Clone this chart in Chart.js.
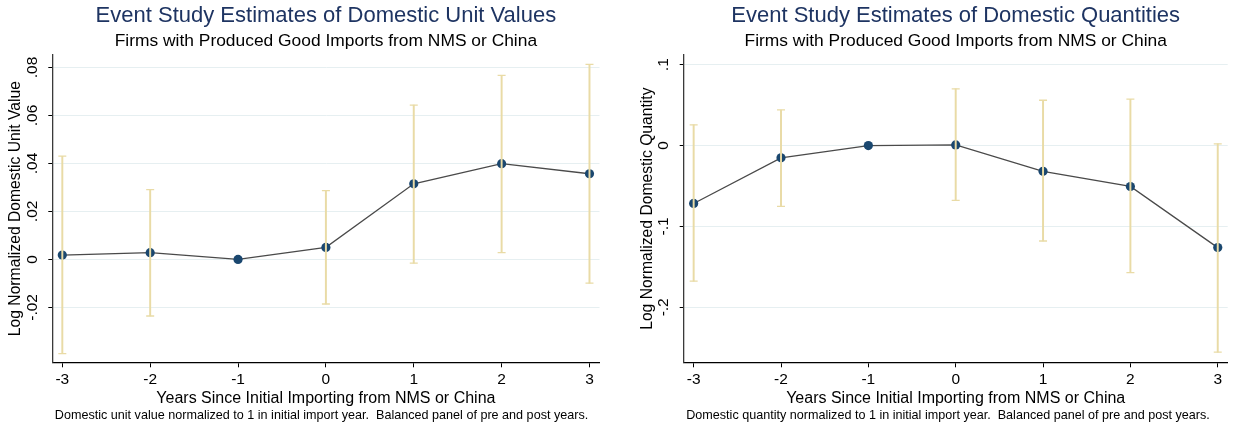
<!DOCTYPE html>
<html>
<head>
<meta charset="utf-8">
<script src="https://cdn.jsdelivr.net/npm/chart.js@4"></script>
<style>
  html, body { margin: 0; padding: 0; background: #fff; }
  #wrap { position: relative; width: 1233px; height: 428px; }
  canvas { position: absolute; top: 0; }
</style>
</head>
<body>
<div id="wrap">
  <canvas id="unitValues" width="616" height="428" style="left:0"></canvas>
  <canvas id="quantities" width="617" height="428" style="left:616px"></canvas>
</div>
<script>
// Event-time axis
const years = [-3, -2, -1, 0, 1, 2, 3];
const xTicks = [-3, -2, -1, 0, 1, 2, 3];

// Domestic unit values: point estimates and 95% CI bounds (year -1 is the reference)
const unitValueEst = [0.0018, 0.0028, 0, 0.0050, 0.0315, 0.0399, 0.0357];
const unitValueLo  = [-0.0393, -0.0236, null, -0.0186, -0.0016, 0.0028, -0.0099];
const unitValueHi  = [0.0430, 0.0291, null, 0.0287, 0.0643, 0.0767, 0.0813];
const unitValueTicks = [-0.02, 0, 0.02, 0.04, 0.06, 0.08];
const unitValueTickLabels = ['-.02', '0', '.02', '.04', '.06', '.08'];

// Domestic quantities: point estimates and 95% CI bounds
const quantityEst = [-0.0716, -0.0152, 0, 0.0008, -0.0318, -0.0506, -0.1262];
const quantityLo  = [-0.1676, -0.0752, null, -0.0677, -0.1180, -0.1572, -0.2554];
const quantityHi  = [0.0255, 0.0440, null, 0.0702, 0.0560, 0.0573, 0.0022];
const quantityTicks = [-0.2, -0.1, 0, 0.1];
const quantityTickLabels = ['-.2', '-.1', '0', '.1'];

const FONT = "'Liberation Sans', Arial, Helvetica, sans-serif";
const TITLE_NAVY = '#1e3462';
const MARKER_NAVY = '#1a476f';
const LINE_GREY = '#4a4a4a';
const CI_SAND = '#e9dba6';
const GRID = '#e6eff1';

const subtitleText = 'Firms with Produced Good Imports from NMS or China';
const xTitleText = 'Years Since Initial Importing from NMS or China';

// Footnote written under the x-axis title, flush with the plot's left edge
const panelNote = {
  id: 'panelNote',
  afterDraw(chart, args, opts) {
    const { ctx, chartArea } = chart;
    ctx.save();
    ctx.font = opts.font;
    ctx.fillStyle = opts.color;
    ctx.textAlign = 'left';
    ctx.textBaseline = 'middle';
    ctx.fillText(opts.text, chartArea.left + opts.dx, opts.y);
    ctx.restore();
  }
};

function eventStudyChart(canvasId, p) {
  const points = years.map((x, i) => ({ x, y: p.est[i] }));
  const ranges = [];
  const caps = [];
  years.forEach((x, i) => {
    if (p.lo[i] === null) return;
    ranges.push({ x, y: [p.lo[i], p.hi[i]] });
    caps.push({ x, y: p.lo[i] }, { x, y: p.hi[i] });
  });

  return new Chart(document.getElementById(canvasId), {
    type: 'line',
    data: {
      datasets: [
        {
          type: 'line', data: points, order: 2,
          borderColor: LINE_GREY, borderWidth: 1.3, tension: 0,
          pointRadius: 4.6, pointBackgroundColor: MARKER_NAVY,
          pointBorderColor: MARKER_NAVY, pointBorderWidth: 0
        },
        {
          type: 'bar', data: ranges, order: 1,
          backgroundColor: CI_SAND, borderWidth: 0,
          barThickness: 1.3, grouped: false
        },
        {
          type: 'scatter', data: caps, order: 0,
          pointStyle: 'line', pointRadius: 4,
          borderColor: CI_SAND, borderWidth: 1.3
        }
      ]
    },
    options: {
      responsive: false,
      animation: false,
      events: [],
      layout: { padding: { left: 0, right: p.padRight, top: 0, bottom: 18 } },
      plugins: {
        legend: { display: false },
        tooltip: { enabled: false },
        title: {
          display: true, text: p.title, color: TITLE_NAVY, fullSize: false,
          font: { family: FONT, size: 22, weight: 'normal' },
          padding: { top: 2.8, bottom: 0 }
        },
        subtitle: {
          display: true, text: subtitleText, color: '#000', fullSize: false,
          font: { family: FONT, size: 17.4, weight: 'normal' },
          padding: { top: 1.35, bottom: 3.55 }
        },
        panelNote: { text: p.note, font: '12.6px ' + FONT, color: '#000', dx: 2.5, y: 415.5 }
      },
      scales: {
        x: {
          type: 'linear', min: -3.114, max: 3.114, offset: false,
          afterBuildTicks: s => { s.ticks = xTicks.map(v => ({ value: v })); },
          ticks: {
            font: { family: FONT, size: 15.5 }, color: '#000',
            padding: 3.5, maxRotation: 0, autoSkip: false,
            callback: v => String(v)
          },
          grid: {
            display: true, drawOnChartArea: false, drawTicks: true, offset: false,
            tickLength: 5, tickColor: '#000', tickWidth: 1
          },
          border: { display: true, color: '#000', width: 1.3 },
          title: {
            display: true, text: xTitleText, color: '#000',
            font: { family: FONT, size: 16 },
            padding: { top: 0, bottom: 1.6 }
          },
          afterFit: s => { s.height = 47.7; s.paddingLeft = 0; s.paddingRight = 0; }
        },
        y: {
          type: 'linear', min: p.yMin, max: p.yMax,
          afterBuildTicks: s => { s.ticks = p.ticks.map(v => ({ value: v })); },
          ticks: {
            font: { family: FONT, size: 15.5 }, color: '#000',
            minRotation: 90, maxRotation: 90, crossAlign: 'center',
            padding: p.tickPad, autoSkip: false,
            callback: (v, i) => p.tickLabels[i]
          },
          grid: {
            color: GRID, lineWidth: 1, drawTicks: true,
            tickLength: 4, tickColor: '#000', tickWidth: 1
          },
          border: { display: true, color: '#3a3a3a', width: 1.3 },
          title: {
            display: true, text: p.yTitle, color: '#000',
            font: { family: FONT, size: 15.7 },
            padding: { top: p.yTitlePad, bottom: 0 }
          },
          afterFit: s => { s.width = p.yWidth; s.paddingTop = 0; s.paddingBottom = 0; }
        }
      }
    },
    plugins: [panelNote]
  });
}

eventStudyChart('unitValues', {
  title: 'Event Study Estimates of Domestic Unit Values',
  yTitle: 'Log Normalized Domestic Unit Value',
  note: 'Domestic unit value normalized to 1 in initial import year.  Balanced panel of pre and post years.',
  est: unitValueEst, lo: unitValueLo, hi: unitValueHi,
  ticks: unitValueTicks, tickLabels: unitValueTickLabels,
  yMin: -0.0429, yMax: 0.0852,
  yWidth: 52.3, padRight: 16.5, tickPad: 2.2, yTitlePad: 6.6
});

eventStudyChart('quantities', {
  title: 'Event Study Estimates of Domestic Quantities',
  yTitle: 'Log Normalized Domestic Quantity',
  note: 'Domestic quantity normalized to 1 in initial import year.  Balanced panel of pre and post years.',
  est: quantityEst, lo: quantityLo, hi: quantityHi,
  ticks: quantityTicks, tickLabels: quantityTickLabels,
  yMin: -0.268, yMax: 0.112,
  yWidth: 67.7, padRight: 2.5, tickPad: 7, yTitlePad: 22.6
});
</script>
</body>
</html>
